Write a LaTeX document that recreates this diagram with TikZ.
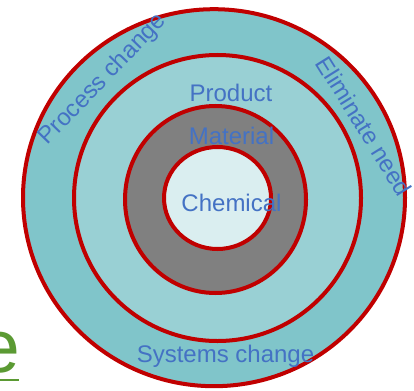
\documentclass[tikz,border=0pt]{standalone}
\usepackage{fontspec}
\setmainfont{Liberation Sans}
\definecolor{ringred}{HTML}{C00000}
\definecolor{outerteal}{HTML}{80C5CA}
\definecolor{midteal}{HTML}{99D0D4}
\definecolor{coregray}{HTML}{808080}
\definecolor{corelight}{HTML}{DAEEF0}
\definecolor{lblblue}{HTML}{4472C4}
\definecolor{linkgreen}{HTML}{5B9A33}
\begin{document}
\begin{tikzpicture}[x = 1pt, y = -1pt,
    ring/.style = {draw = ringred, line width = 4pt},
    lbl/.style = {text = lblblue, inner sep = 0pt, anchor = base, font = \fontsize{24}{28}\selectfont}]
      \useasboundingbox (0,0) rectangle (414,390);
      % rings, outside in
      \draw [ring, fill = outerteal] (214,197.7) ellipse [x radius = 191pt, y radius = 188.5pt];
      \draw [ring, fill = midteal] (217.5,198) ellipse [x radius = 143.5pt, y radius = 143pt];
      \draw [ring, fill = coregray] (215.5,199.5) ellipse [x radius = 90.5pt, y radius = 93.5pt];
      \draw [ring, fill = corelight] (217.5,198) ellipse [x radius = 53.5pt, y radius = 51pt];
      % labels
      \node [lbl] (product) at (231,101.7) {Product};
      \node [lbl] (material) at (231.5,145) {Material};
      \node [lbl] (chemical) at (231.5,211.7) {Chemical};
      \node [lbl] (systems) at (225.5,362) {Systems change};
      \node [lbl, rotate = 46] (process) at (107.5,84) {Process change};
      \node [lbl, rotate = -58] (eliminate) at (357,130.5) {Eliminate need};
      % cut-off link letter at the left edge
      \node [text = linkgreen, inner sep = 0pt, anchor = base west, font = \fontsize{75}{80}\selectfont] (linke) at (-22,372) {e};
      \draw [linkgreen, line width = 2.5pt] (-22,380) -- (19,380);
\end{tikzpicture}
\end{document}
